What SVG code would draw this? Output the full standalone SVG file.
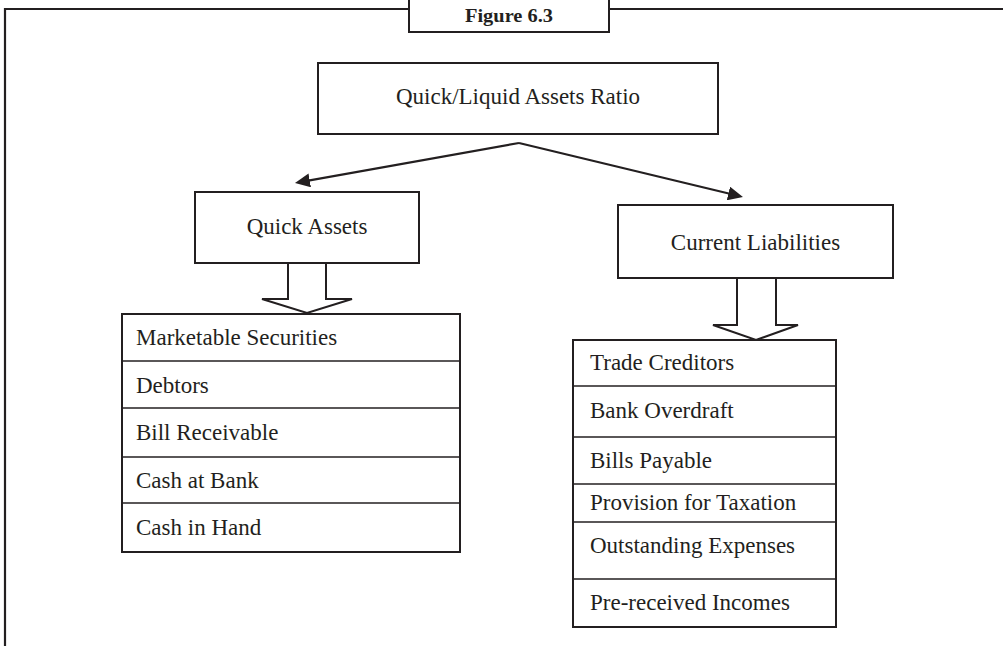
<svg xmlns="http://www.w3.org/2000/svg" width="1003" height="646" viewBox="0 0 1003 646">
  <style>
    .box { fill: #ffffff; stroke: #231f20; stroke-width: 2; }
    .rule { stroke: #231f20; stroke-width: 1.6; fill: none; }
    .frame { stroke: #231f20; stroke-width: 2.2; fill: none; }
    .link { stroke: #231f20; stroke-width: 2.2; fill: none; }
    .block { fill: #ffffff; stroke: #231f20; stroke-width: 2; stroke-linejoin: miter; }
    .lbl { font-family: "Liberation Serif", "Times New Roman", serif; font-size: 23px; fill: #231f20; }
    .mid { text-anchor: middle; }
    .title { font-family: "Liberation Serif", "Times New Roman", serif; font-size: 19px; font-weight: bold; fill: #231f20; text-anchor: middle; }
  </style>
  <defs>
    <marker id="head" markerUnits="userSpaceOnUse" viewBox="0 0 15 14" refX="10" refY="7" markerWidth="15" markerHeight="14" orient="auto">
      <path d="M0,0 L15,7 L0,14 z" fill="#231f20"/>
    </marker>
  </defs>

  <rect width="1003" height="646" fill="#ffffff"/>

  <!-- outer frame with caption tab -->
  <g id="frame">
    <path class="frame" d="M5,646 V9 H409 M609,9 H1003"/>
    <rect class="box" x="409" y="-2" width="200" height="34"/>
    <text class="title" x="509" y="22" textLength="88" lengthAdjust="spacingAndGlyphs">Figure 6.3</text>
  </g>

  <g id="ratio">
    <rect class="box" x="318" y="63" width="400" height="71"/>
    <text class="lbl mid" x="518" y="104">Quick/Liquid Assets Ratio</text>
  </g>

  <g id="quick-assets">
    <rect class="box" x="195" y="192" width="224" height="71"/>
    <text class="lbl mid" x="307" y="234">Quick Assets</text>
  </g>

  <g id="current-liabilities">
    <rect class="box" x="618" y="205" width="275" height="73"/>
    <text class="lbl mid" x="755.5" y="250">Current Liabilities</text>
  </g>

  <g id="connectors">
    <line class="link" x1="519" y1="143" x2="299.9" y2="182.1" marker-end="url(#head)"/>
    <line class="link" x1="519" y1="143" x2="738.1" y2="195.8" marker-end="url(#head)"/>
    <polygon class="block" points="288,263 288,299 262,299 307,313 352,299 326,299 326,263"/>
    <polygon class="block" points="737,278 737,325 713,325 756,340 798,325 776,325 776,278"/>
  </g>

  <g id="quick-assets-items">
    <rect class="box" x="122" y="314" width="338" height="238"/>
    <line class="rule" x1="122" y1="361" x2="460" y2="361"/>
    <line class="rule" x1="122" y1="408" x2="460" y2="408"/>
    <line class="rule" x1="122" y1="457" x2="460" y2="457"/>
    <line class="rule" x1="122" y1="503" x2="460" y2="503"/>
    <text class="lbl" x="136" y="345">Marketable Securities</text>
    <text class="lbl" x="136" y="393">Debtors</text>
    <text class="lbl" x="136" y="440">Bill Receivable</text>
    <text class="lbl" x="136" y="488">Cash at Bank</text>
    <text class="lbl" x="136" y="535">Cash in Hand</text>
  </g>

  <g id="current-liabilities-items">
    <rect class="box" x="573" y="340" width="263" height="287"/>
    <line class="rule" x1="573" y1="386" x2="836" y2="386"/>
    <line class="rule" x1="573" y1="437" x2="836" y2="437"/>
    <line class="rule" x1="573" y1="484" x2="836" y2="484"/>
    <line class="rule" x1="573" y1="522" x2="836" y2="522"/>
    <line class="rule" x1="573" y1="579" x2="836" y2="579"/>
    <text class="lbl" x="590" y="370">Trade Creditors</text>
    <text class="lbl" x="590" y="418">Bank Overdraft</text>
    <text class="lbl" x="590" y="468">Bills Payable</text>
    <text class="lbl" x="590" y="510">Provision for Taxation</text>
    <text class="lbl" x="590" y="553">Outstanding Expenses</text>
    <text class="lbl" x="590" y="610">Pre-received Incomes</text>
  </g>
</svg>
